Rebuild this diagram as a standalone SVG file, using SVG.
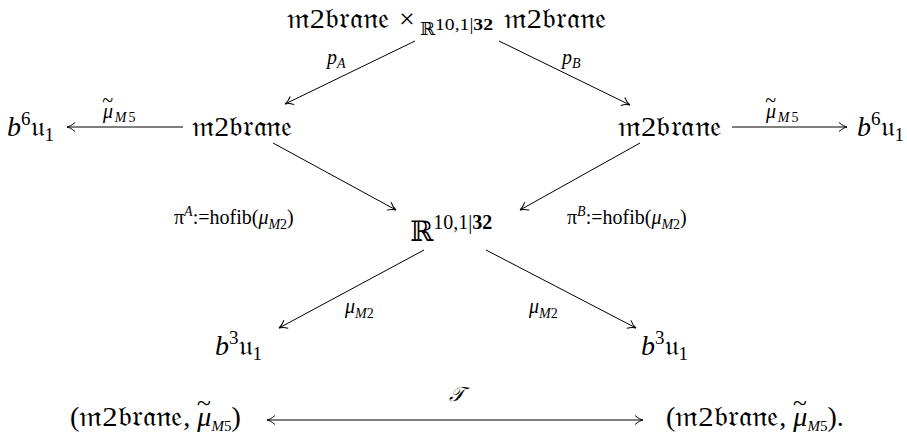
<svg xmlns="http://www.w3.org/2000/svg" width="907" height="445" viewBox="0 0 907 445">
<style>
text{font-family:"Liberation Serif","DejaVu Serif","DejaVu Sans","Noto Sans",serif;fill:#000}
.big{font-size:28px}
.lab{font-size:20px}
.sub{font-size:14px}
.it{font-style:italic}
.up{font-style:normal}
.conn line{stroke:#000;stroke-width:1;fill:none}
</style>
<defs>
<marker id="ah" viewBox="-10 -6 12 12" refX="0" refY="0" markerWidth="12" markerHeight="12" markerUnits="userSpaceOnUse" orient="auto-start-reverse">
<path d="M-8,-4.5 C-5,-1.8 -2,-0.4 0,0 C-2,0.4 -5,1.8 -8,4.5" fill="none" stroke="#000" stroke-width="1"/>
</marker>
</defs>
<rect width="907" height="445" fill="#fff"/>
<g id="top">
<text class="big" x="287" y="28" textLength="103" lengthAdjust="spacingAndGlyphs">𝔪2𝔟𝔯𝔞𝔫𝔢</text>
<text class="big" x="399" y="28">×</text>
<text x="420" y="35" font-size="18">ℝ</text>
<text x="435" y="30" font-size="16" textLength="58" lengthAdjust="spacingAndGlyphs">10,1|<tspan font-weight="bold">32</tspan></text>
<text class="big" x="504" y="28" textLength="103" lengthAdjust="spacingAndGlyphs">𝔪2𝔟𝔯𝔞𝔫𝔢</text>
</g>
<g id="b6u1-left">
<text class="big" x="7" y="136"><tspan class="it">b</tspan><tspan font-size="19" dy="-11">6</tspan><tspan dy="11">𝔲</tspan><tspan font-size="19" dy="5">1</tspan></text>
</g>
<g id="m2brane-left">
<text class="big" x="192" y="136" textLength="101" lengthAdjust="spacingAndGlyphs">𝔪2𝔟𝔯𝔞𝔫𝔢</text>
</g>
<g id="m2brane-right">
<text class="big" x="618" y="136" textLength="104" lengthAdjust="spacingAndGlyphs">𝔪2𝔟𝔯𝔞𝔫𝔢</text>
</g>
<g id="b6u1-right">
<text class="big" x="857" y="136"><tspan class="it">b</tspan><tspan font-size="19" dy="-11">6</tspan><tspan dy="11">𝔲</tspan><tspan font-size="19" dy="5">1</tspan></text>
</g>
<g id="R">
<text class="big" x="410" y="241">ℝ<tspan font-size="20" dy="-12">10,1|</tspan><tspan font-size="20" font-weight="bold">32</tspan></text>
</g>
<g id="b3u1-left">
<text class="big" x="215" y="355"><tspan class="it">b</tspan><tspan font-size="19" dy="-11">3</tspan><tspan dy="11">𝔲</tspan><tspan font-size="19" dy="5">1</tspan></text>
</g>
<g id="b3u1-right">
<text class="big" x="641" y="355"><tspan class="it">b</tspan><tspan font-size="19" dy="-11">3</tspan><tspan dy="11">𝔲</tspan><tspan font-size="19" dy="5">1</tspan></text>
</g>
<g id="pair-left">
<text class="big" x="70" y="426">(<tspan textLength="104" lengthAdjust="spacingAndGlyphs">𝔪2𝔟𝔯𝔞𝔫𝔢</tspan>, <tspan class="it">μ</tspan><tspan class="it" font-size="26" dx="-15" dy="-15">~</tspan><tspan class="it" font-size="15" dx="1" dy="20">M</tspan><tspan font-size="15">5</tspan><tspan dy="-5">)</tspan></text>
</g>
<g id="pair-right">
<text class="big" x="666" y="426">(<tspan textLength="104" lengthAdjust="spacingAndGlyphs">𝔪2𝔟𝔯𝔞𝔫𝔢</tspan>, <tspan class="it">μ</tspan><tspan class="it" font-size="26" dx="-15" dy="-15">~</tspan><tspan class="it" font-size="15" dx="1" dy="20">M</tspan><tspan font-size="15">5</tspan><tspan dy="-5">).</tspan></text>
</g>
<g class="conn" id="connectors">
<line x1="415" y1="41" x2="285" y2="104" marker-end="url(#ah)"/>
<line x1="499" y1="41" x2="630" y2="105" marker-end="url(#ah)"/>
<line x1="183" y1="127" x2="67" y2="127" marker-end="url(#ah)"/>
<line x1="732" y1="127" x2="847" y2="127" marker-end="url(#ah)"/>
<line x1="273" y1="143" x2="396" y2="210" marker-end="url(#ah)"/>
<line x1="640" y1="143" x2="520" y2="210" marker-end="url(#ah)"/>
<line x1="424" y1="250" x2="279" y2="328" marker-end="url(#ah)"/>
<line x1="486" y1="250" x2="636" y2="328" marker-end="url(#ah)"/>
<line x1="267" y1="420" x2="643" y2="420" marker-start="url(#ah)" marker-end="url(#ah)"/>
</g>
<g id="labels">
<text class="lab it" x="327" y="64">p<tspan class="sub" dy="4">A</tspan></text>
<text class="lab it" x="562" y="64">p<tspan class="sub" dy="4">B</tspan></text>
<text class="lab it" x="102" y="118">μ<tspan dx="-11" dy="-11">~</tspan><tspan class="sub" dx="2" dy="15">M</tspan><tspan class="sub up" dx="2">5</tspan></text>
<text class="lab it" x="765" y="118">μ<tspan dx="-11" dy="-11">~</tspan><tspan class="sub" dx="2" dy="15">M</tspan><tspan class="sub up" dx="2">5</tspan></text>
<text class="lab" x="174" y="224">π<tspan class="sub it" dy="-8">A</tspan><tspan dy="8">:=hofib(</tspan><tspan class="it">μ</tspan><tspan class="sub it" dy="5">M</tspan><tspan class="sub">2</tspan><tspan dy="-5">)</tspan></text>
<text class="lab" x="567" y="224">π<tspan class="sub it" dy="-8">B</tspan><tspan dy="8">:=hofib(</tspan><tspan class="it">μ</tspan><tspan class="sub it" dy="5">M</tspan><tspan class="sub">2</tspan><tspan dy="-5">)</tspan></text>
<text class="lab" x="345" y="313"><tspan class="it">μ</tspan><tspan class="sub it" dy="5">M</tspan><tspan class="sub">2</tspan></text>
<text class="lab" x="529" y="313"><tspan class="it">μ</tspan><tspan class="sub it" dy="5">M</tspan><tspan class="sub">2</tspan></text>
<text class="lab it" x="449" y="401">𝒯</text>
</g>
</svg>
